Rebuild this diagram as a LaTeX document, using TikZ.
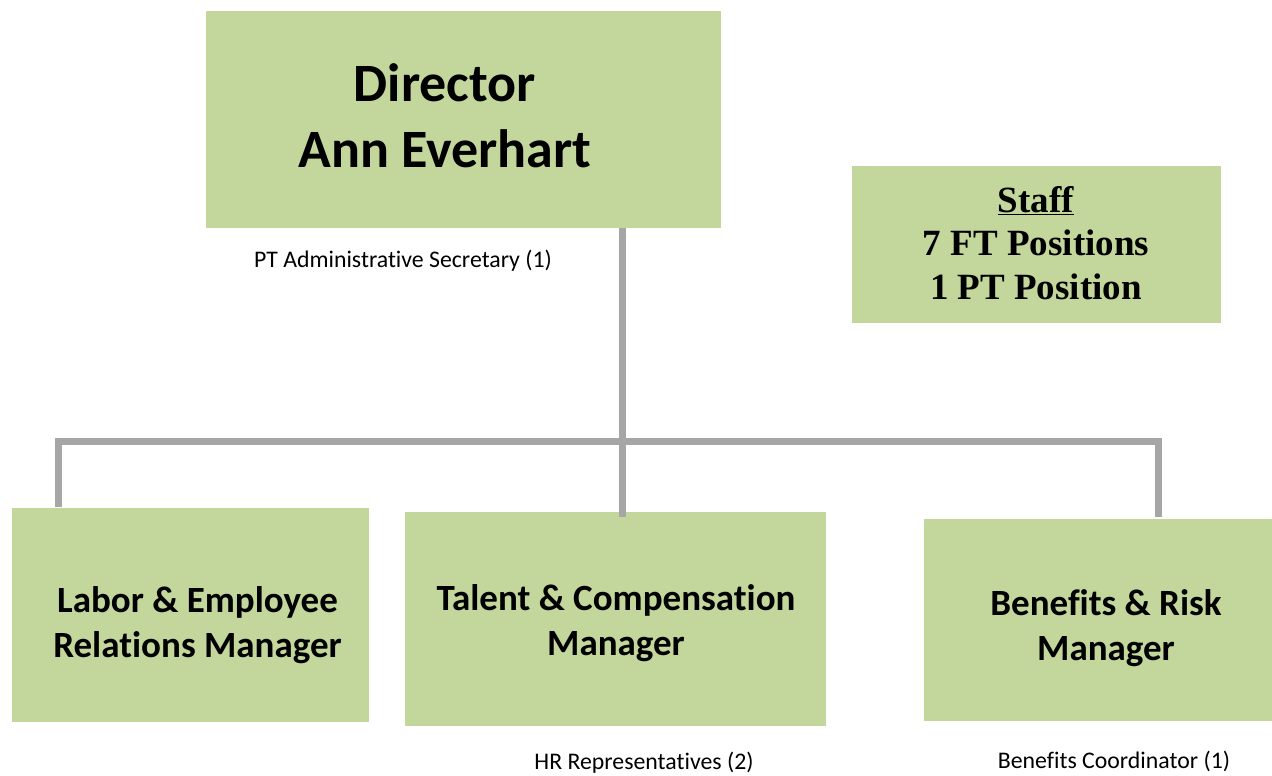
\documentclass[tikz,border=0pt]{standalone}
\usepackage{fontspec}
\setmainfont{Carlito}[Ligatures=NoCommon]
\newfontfamily\staffserif{Liberation Serif}
\definecolor{boxgreen}{HTML}{C3D69B}
\definecolor{linkgray}{HTML}{A6A6A6}
\tikzset{
  unitbox/.style={fill=boxgreen, draw=none, inner sep=0pt, rectangle},
  roletext/.style={font=\bfseries\fontsize{37}{45}\selectfont, align=center, inner sep=0pt},
  headtext/.style={font=\bfseries\fontsize{54}{66}\selectfont, align=center, inner sep=0pt},
  stafftext/.style={font=\staffserif\bfseries\fontsize{37}{43.5}\selectfont, align=center, inner sep=0pt},
  subtext/.style={font=\fontsize{23.8}{26}\selectfont, inner sep=0pt},
  link/.style={draw=linkgray, line width=7pt, line join=miter, line cap=butt},
}
\begin{document}
\begin{tikzpicture}[x=1pt, y=-1pt]
  \useasboundingbox (0,0) rectangle (1272,776);

  % Director
  \node[unitbox, minimum width=515pt, minimum height=217pt] (dir) at (463.5,119.5) {};
  \node[headtext] (dirtxt) at (445,116) {Director\\Ann Everhart};
  \node[subtext] (sec) at (403,261) {PT Administrative Secretary (1)};

  % Staff summary
  \node[unitbox, minimum width=369pt, minimum height=157pt] (staff) at (1036.5,244.5) {};
  \node[stafftext] (stafftxt) at (1036,243) {\underline{Staff}\\7 FT Positions\\1 PT Position};

  % Managers
  \node[unitbox, minimum width=357pt, minimum height=214pt] (labor) at (190.5,615) {};
  \node[roletext] (labortxt) at (197.5,625.5) {Labor \& Employee\\Relations Manager};

  \node[unitbox, minimum width=421pt, minimum height=214pt] (talent) at (615.5,619) {};
  \node[roletext] (talenttxt) at (616,623) {Talent \& Compensation\\Manager};
  \node[subtext] (hrrep) at (644,763) {HR Representatives (2)};

  \node[unitbox, minimum width=348pt, minimum height=202pt] (benefits) at (1098,620) {};
  \node[roletext] (benefitstxt) at (1106,628.5) {Benefits \& Risk\\Manager};
  \node[subtext] (bencoord) at (1114,761) {Benefits Coordinator (1)};

  % Reporting lines
  \coordinate (busmid) at (622,441);
  \coordinate (busleft) at (58,441);
  \coordinate (busright) at (1158,441);
  \draw[link] (dir.south -| busmid) -- ([yshift=-5pt]talent.north -| busmid);
  \draw[link] ([yshift=1pt]labor.north -| busleft) -- (busleft) -- (busright)
              -- ([yshift=2pt]benefits.north -| busright);
\end{tikzpicture}
\end{document}
